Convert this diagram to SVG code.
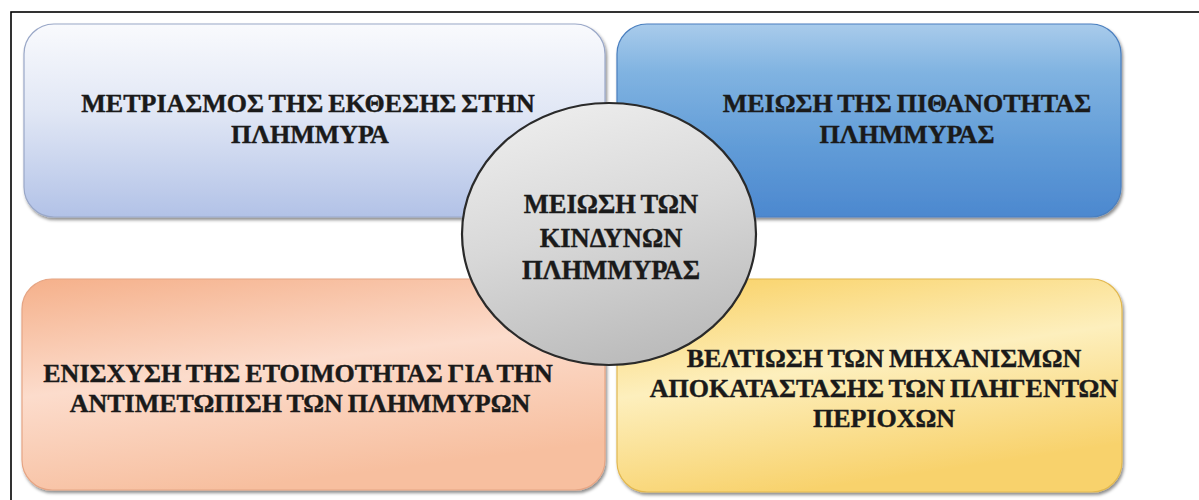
<svg xmlns="http://www.w3.org/2000/svg" width="1199" height="500" viewBox="0 0 1199 500">
  <defs>
    <linearGradient id="gTL" x1="0" y1="0" x2="0" y2="1">
      <stop offset="0" stop-color="#f9fafd"/>
      <stop offset="0.45" stop-color="#e1e7f5"/>
      <stop offset="1" stop-color="#b2c2e7"/>
    </linearGradient>
    <linearGradient id="gTR" x1="0" y1="0" x2="0" y2="1">
      <stop offset="0" stop-color="#a9cbeb"/>
      <stop offset="0.25" stop-color="#80b3e1"/>
      <stop offset="0.65" stop-color="#609bd7"/>
      <stop offset="1" stop-color="#4c88cf"/>
    </linearGradient>
    <linearGradient id="gBL" x1="0" y1="0" x2="0.35" y2="1">
      <stop offset="0" stop-color="#f5b08a"/>
      <stop offset="0.5" stop-color="#fcdccc"/>
      <stop offset="1" stop-color="#f7bf9f"/>
    </linearGradient>
    <linearGradient id="gBR" x1="0" y1="0" x2="0.35" y2="1">
      <stop offset="0" stop-color="#f9d062"/>
      <stop offset="0.5" stop-color="#fdefbd"/>
      <stop offset="1" stop-color="#f8d26c"/>
    </linearGradient>
    <linearGradient id="gC" x1="0.2" y1="0" x2="0.5" y2="1">
      <stop offset="0" stop-color="#eeeeee"/>
      <stop offset="0.5" stop-color="#d8d8d8"/>
      <stop offset="1" stop-color="#bcbcbc"/>
    </linearGradient>
    <filter id="sh" x="-5%" y="-5%" width="110%" height="115%">
      <feDropShadow dx="1.5" dy="2.5" stdDeviation="1.8" flood-color="#000" flood-opacity="0.45"/>
    </filter>
  </defs>
  <style>
    .box { stroke-width: 1.2; filter: url(#sh); }
    .t { font-family: "Liberation Serif", "DejaVu Serif", serif; font-weight: bold; font-size: 26px; fill: #1a1a1a; stroke: #1a1a1a; stroke-width: 0.4; text-anchor: middle; word-spacing: -1.5px; }
    .tc { font-size: 26.5px; }
  </style>
  <rect x="11" y="12" width="1220" height="520" fill="none" stroke="#000" stroke-width="1.6"/>
  <g id="connectors"/>
  <g id="node-tl">
    <rect class="box" x="24" y="24" width="581" height="193" rx="30" ry="30" fill="url(#gTL)" stroke="#9aa8c8"/>
    <text class="t" x="308" y="112">ΜΕΤΡΙΑΣΜΟΣ ΤΗΣ ΕΚΘΕΣΗΣ ΣΤΗΝ</text>
    <text class="t" x="310" y="143">ΠΛΗΜΜΥΡΑ</text>
  </g>
  <g id="node-tr">
    <rect class="box" x="617" y="24" width="504" height="193" rx="30" ry="30" fill="url(#gTR)" stroke="#4a7fbf"/>
    <text class="t" x="907" y="112">ΜΕΙΩΣΗ ΤΗΣ ΠΙΘΑΝΟΤΗΤΑΣ</text>
    <text class="t" x="907" y="143">ΠΛΗΜΜΥΡΑΣ</text>
  </g>
  <g id="node-bl">
    <rect class="box" x="22" y="279" width="583" height="211" rx="30" ry="30" fill="url(#gBL)" stroke="#e6a584"/>
    <text class="t" x="298" y="382">ΕΝΙΣΧΥΣΗ ΤΗΣ ΕΤΟΙΜΟΤΗΤΑΣ ΓΙΑ ΤΗΝ</text>
    <text class="t" x="300" y="412">ΑΝΤΙΜΕΤΩΠΙΣΗ ΤΩΝ ΠΛΗΜΜΥΡΩΝ</text>
  </g>
  <g id="node-br">
    <rect class="box" x="617" y="279" width="505" height="213" rx="30" ry="30" fill="url(#gBR)" stroke="#e2b850"/>
    <text class="t" x="884" y="367">ΒΕΛΤΙΩΣΗ ΤΩΝ ΜΗΧΑΝΙΣΜΩΝ</text>
    <text class="t" x="884" y="397">ΑΠΟΚΑΤΑΣΤΑΣΗΣ ΤΩΝ ΠΛΗΓΕΝΤΩΝ</text>
    <text class="t" x="884" y="427">ΠΕΡΙΟΧΩΝ</text>
  </g>
  <g id="node-center">
    <ellipse cx="609" cy="234" rx="147" ry="131" fill="url(#gC)" stroke="#2a2a2a" stroke-width="2.2"/>
    <text class="t tc" x="611" y="213">ΜΕΙΩΣΗ ΤΩΝ</text>
    <text class="t tc" x="611" y="247">ΚΙΝΔΥΝΩΝ</text>
    <text class="t tc" x="611" y="279">ΠΛΗΜΜΥΡΑΣ</text>
  </g>
</svg>
